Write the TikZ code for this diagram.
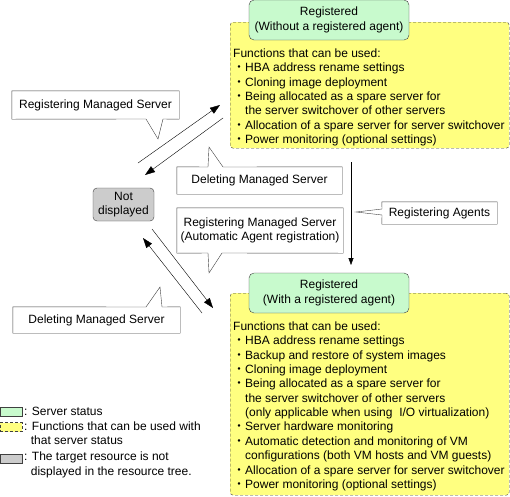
\documentclass[tikz,border=0pt]{standalone}
\usepackage{fontspec}
\setmainfont{Liberation Sans}
\newfontfamily\cjk{Noto Sans CJK JP}
\usetikzlibrary{arrows.meta}
\definecolor{statusgreen}{RGB}{200,250,205}
\definecolor{funcyellow}{RGB}{255,255,128}
\definecolor{hiddengray}{RGB}{204,204,204}
\definecolor{edgegray}{RGB}{64,64,64}
\newcommand{\itemdot}{{\cjk ・}}
\newcommand{\itemgap}{\hspace*{12pt}}
\tikzset{
  statusbox/.style={draw=edgegray, fill=statusgreen, rounded corners=5pt, align=center,
    minimum width=160pt, minimum height=40pt, inner sep=0pt},
  funcbox/.style={draw=edgegray, fill=funcyellow, dash pattern=on 3pt off 2pt,
    rounded corners=3pt, anchor=north west, minimum width=279pt, inner sep=0pt},
  functext/.style={align=left, anchor=north west, inner sep=0pt},
  hiddenbox/.style={draw=edgegray, fill=hiddengray, rounded corners=4pt, align=center,
    minimum width=61pt, minimum height=33pt, inner sep=0pt},
  notebox/.style={inner sep=0pt, align=center},
  notepath/.style={draw=edgegray},
  move/.style={-{Triangle[length=10pt,width=7pt]}, black},
  keyswatch/.style={draw=edgegray, minimum width=22pt, minimum height=9pt, inner sep=0pt},
  keytext/.style={anchor=west, align=left, inner sep=0pt},
}
\begin{document}
\begin{tikzpicture}[x=1pt,y=-1pt,font=\fontsize{12}{14.36}\selectfont]
  \useasboundingbox (0,0) rectangle (510,496);
  %
  % upper state: registered, no agent
  \node[funcbox, minimum height=126pt] (func1) at (230,22) {};
  \node[statusbox] (reg1) at (329,20) {Registered\\(Without a registered agent)};
  \node[functext] (func1text) at (233,48.5) {Functions that can be used:\\
    \itemdot HBA address rename settings\\
    \itemdot Cloning image deployment\\
    \itemdot Being allocated as a spare server for\\
    \itemgap the server switchover of other servers\\
    \itemdot Allocation of a spare server for server switchover\\
    \itemdot Power monitoring (optional settings)};
  %
  % lower state: registered with agent
  \node[funcbox, minimum height=202pt] (func2) at (230,293) {};
  \node[statusbox] (reg2) at (329,293) {Registered\\(With a registered agent)};
  \node[functext] (func2text) at (233,321.5) {Functions that can be used:\\
    \itemdot HBA address rename settings\\
    \itemdot Backup and restore of system images\\
    \itemdot Cloning image deployment\\
    \itemdot Being allocated as a spare server for\\
    \itemgap the server switchover of other servers\\
    \itemgap (only applicable when using\ \ I/O virtualization)\\
    \itemdot Server hardware monitoring\\
    \itemdot Automatic detection and monitoring of VM\\
    \itemgap configurations (both VM hosts and VM guests)\\
    \itemdot Allocation of a spare server for server switchover\\
    \itemdot Power monitoring (optional settings)};
  %
  \node[hiddenbox] (nodisp) at (123.5,204.5) {Not\\displayed};
  %
  % transitions
  \coordinate (regfrom) at (138,163);
  \coordinate (regto) at (220,105);
  \coordinate (delfrom) at (223,118);
  \coordinate (delto) at (145,175);
  \coordinate (autofrom) at (152,229);
  \coordinate (autoto) at (213,308);
  \coordinate (del2from) at (202,313);
  \coordinate (del2to) at (143,238);
  \coordinate (agentfrom) at (351,162);
  \coordinate (agentto) at (351,265);
  \draw[move] (regfrom) -- (regto);
  \draw[move] (delfrom) -- (delto);
  \draw[move] (autofrom) -- (autoto);
  \draw[move] (del2from) -- (del2to);
  \draw[-{Triangle[length=7pt,width=5pt]}] (agentfrom) -- (agentto);
  %
  % callouts
  \node[notebox, minimum width=167pt, minimum height=28pt] (regms) at (95.5,105) {Registering Managed Server};
  \draw[notepath] (regms.south west) -- (regms.north west) -- (regms.north east)
    -- (regms.south east) -- (163,119) -- (158,139) -- (146,119) -- cycle;
  \node[notebox, minimum width=165pt, minimum height=27pt] (delms) at (259.5,180.5) {Deleting Managed Server};
  \draw[notepath] (delms.north west) -- (208,167) -- (209,147) -- (223,167)
    -- (delms.north east) -- (delms.south east) -- (delms.south west) -- cycle;
  \node[notebox, minimum width=166pt, minimum height=45pt] (autoreg) at (260,230.5)
    {Registering Managed Server\\(Automatic Agent registration)};
  \draw[notepath] (autoreg.south west) -- (autoreg.north west) -- (autoreg.north east)
    -- (autoreg.south east) -- (222,253) -- (209,273) -- (208,253) -- cycle;
  \node[notebox, minimum width=115pt, minimum height=22pt] (regagent) at (439.5,213) {Registering Agents};
  \draw[notepath] (regagent.north west) -- (regagent.north east) -- (regagent.south east)
    -- (regagent.south west) -- (382,215) -- (356,212) -- (382,209) -- cycle;
  \node[notebox, minimum width=167pt, minimum height=26pt] (delms2) at (96.5,320) {Deleting Managed Server};
  \draw[notepath] (delms2.north west) -- (146,307) -- (160,287) -- (162,307)
    -- (delms2.north east) -- (delms2.south east) -- (delms2.south west) -- cycle;
  %
  % legend
  \node[keyswatch, fill=statusgreen] (keystatus) at (11,411.5) {};
  \node[keyswatch, fill=funcyellow, dash pattern=on 3pt off 2pt] (keyfunc) at (11,427) {};
  \node[keyswatch, fill=hiddengray] (keyhidden) at (11,458.5) {};
  \node[keytext] (keystatustext) at (24,411.5) {: Server status};
  \node[keytext] (keyfunctext) at (24,433.5) {: Functions that can be used with\\\hspace*{6.7pt}that server status};
  \node[keytext] (keyhiddentext) at (24,465) {: The target resource is not\\\hspace*{6.7pt}displayed in the resource tree.};
\end{tikzpicture}
\end{document}
